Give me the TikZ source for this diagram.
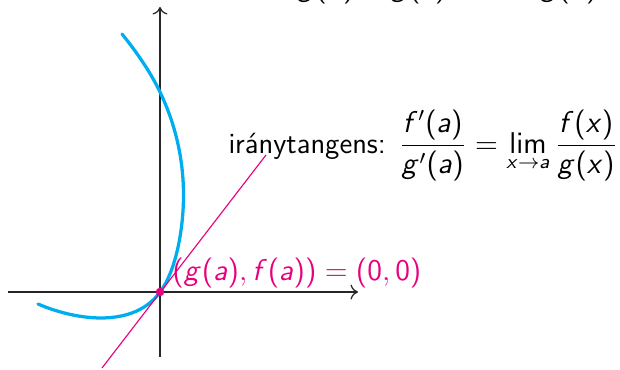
\documentclass[tikz,border=0pt]{standalone}
\usetikzlibrary{arrows.meta}
\renewcommand{\familydefault}{\sfdefault}
\DeclareSymbolFont{sfletters}{OT1}{cmss}{m}{sl}
\SetSymbolFont{operators}{normal}{OT1}{cmss}{m}{n}
\DeclareMathSymbol{a}{\mathalpha}{sfletters}{`a}
\DeclareMathSymbol{f}{\mathalpha}{sfletters}{`f}
\DeclareMathSymbol{g}{\mathalpha}{sfletters}{`g}
\DeclareMathSymbol{x}{\mathalpha}{sfletters}{`x}
\definecolor{curveblue}{RGB}{0,174,239}
\definecolor{tanmag}{RGB}{230,0,126}
\tikzset{
  axis/.style={draw=black!85, line width=0.5pt, -{To[length=3pt,width=6pt]}},
  curvestyle/.style={draw=curveblue, line width=1.3pt, line cap=round},
  tanline/.style={draw=tanmag, line width=0.45pt},
  dotstyle/.style={circle, fill=tanmag, inner sep=0pt, minimum size=3.4pt},
  txt/.style={inner sep=0pt, font=\fontsize{11.7}{14}\selectfont},
}
\begin{document}
\begin{tikzpicture}[x=0.4pt,y=0.4pt]
\useasboundingbox (-160,-77) rectangle (460,292);
% axes
\coordinate (xl) at (-152,0);
\coordinate (xr) at (198,0);
\coordinate (yb) at (0,-65);
\coordinate (yt) at (0,285);
\draw[axis] (xl) -- (xr);
\draw[axis] (yb) -- (yt);
% curve
\coordinate (c0) at (-122,-12);
\coordinate (c1) at (0,0);
\coordinate (c2) at (23.5,97);
\coordinate (c3) at (0,200);
\coordinate (c4) at (-38,258);
\draw[curvestyle] (c0) .. controls (-80,-30) and (-25,-35) .. (c1)
  .. controls (15,19.5) and (23.5,60) .. (c2)
  .. controls (23.5,140) and (12,175) .. (c3)
  .. controls (-10,221) and (-25,242) .. (c4);
% tangent
\coordinate (t1) at (-58,-76);
\coordinate (t2) at (106,137);
\draw[tanline] (t1) -- (t2);
\node[dotstyle] (P) at (c1) {};
% labels
\node[txt, text=tanmag, anchor=base west] (lab) at (12,12) {$(g(a),f(a))=(0,0)$};
\node[txt, anchor=base west] (tang) at (68,139) {ir\'anytangens: $\displaystyle\frac{f'(a)}{g'(a)}=\lim_{x\to a}\frac{f(x)}{g(x)}$};
\node[txt, anchor=south] (top1) at (212,288) {$\displaystyle\frac{f(x)-f(a)}{g(x)-g(a)}$};
\node[txt, anchor=south] (top2) at (409,288) {$\displaystyle\frac{f(x)}{g(x)}$};
\end{tikzpicture}
\end{document}
